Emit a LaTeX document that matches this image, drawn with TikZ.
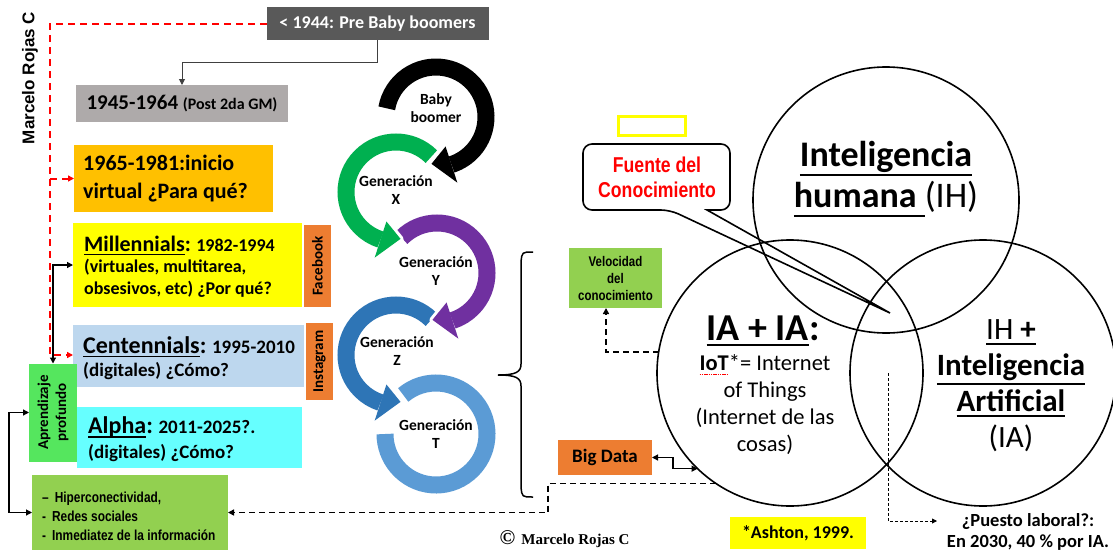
\documentclass[tikz,border=0pt]{standalone}
\usepackage{fontspec}
\setmainfont{Carlito}
\newfontfamily\arialf{Liberation Sans}
\newfontfamily\narrowf[FakeStretch=0.82]{Liberation Sans}
\newfontfamily\seriff{Liberation Serif}
\usetikzlibrary{arrows.meta,calc}
\definecolor{cpre}{HTML}{595959}
\definecolor{cgrayb}{HTML}{AEAAAA}
\definecolor{corg}{HTML}{FFC000}
\definecolor{cyel}{HTML}{FFFF00}
\definecolor{corg2}{HTML}{ED7D31}
\definecolor{clbl}{HTML}{BDD7EE}
\definecolor{ccya}{HTML}{66FFFF}
\definecolor{capr}{HTML}{55E65E}
\definecolor{clst}{HTML}{92D050}
\definecolor{rgreen}{HTML}{00B050}
\definecolor{rpurple}{HTML}{7030A0}
\definecolor{rblue}{HTML}{2E75B6}
\definecolor{rlblue}{HTML}{5B9BD5}
\definecolor{cred}{HTML}{FF0000}
\newcommand\fsz[2]{\fontsize{#1}{#2}\selectfont}
% underline: thickness, depth below baseline, text
\newcommand\ulbox[3]{\setbox0=\hbox{#3}\leavevmode\rlap{\rule[\dimexpr-#2-#1\relax]{\wd0}{#1}}\box0}
\newcommand\reddots[1]{\setbox0=\hbox{#1}\leavevmode\rlap{\textcolor{red}{\hbox to \wd0{\xleaders\hbox{\rule[-4pt]{1.4pt}{1.2pt}\kern0.8pt}\hfill}}}\box0}
% ring: colour, centre, radius, start angle, end angle, tip direction
\newcommand\ringarrow[6]{%
  \filldraw[white, line width=6pt, line join=round] ($#2+(#5:#3+19)$) -- ($#2+(#5:#3-19)$) -- ($#2+(#5:#3)+(#6:20)$) -- cycle;
  \draw[line width=17pt, #1] #2 ++(#4:#3) arc[start angle=#4, end angle=#5, radius=#3];
  \fill[#1] ($#2+(#5:#3+19)$) -- ($#2+(#5:#3-19)$) -- ($#2+(#5:#3)+(#6:20)$) -- cycle;}
\begin{document}
\begin{tikzpicture}[x=1pt,y=-1pt,
  box/.style={inner sep=0pt, outer sep=0pt},
  ltext/.style={anchor=west, align=left, inner sep=0pt},
  tip/.style={-{Triangle[length=6pt,width=6pt]}},
  conn/.style={line width=1.2pt, draw=black},
  dconn/.style={line width=1.5pt, dash pattern=on 6pt off 4pt, tip},
  rdash/.style={draw=cred, line width=2pt, dash pattern=on 7pt off 5pt, tip},
  gen/.style={align=center, font=\bfseries\fsz{15.5}{17.5}},
  vcirc/.style={circle, draw, line width=1.6pt, minimum size=266pt, inner sep=0pt, outer sep=0pt},
]
\useasboundingbox (0,0) rectangle (1113,554);

% ---------- left column boxes ----------
\node[box, fill=cpre, minimum width=222pt, minimum height=33pt, text=white, font=\bfseries\fsz{18}{20}] (pre) at (377.5,23.5) {< 1944: Pre Baby boomers};
\node[box, fill=cgrayb, minimum width=212pt, minimum height=37pt, font=\bfseries] (b45) at (182,103.5) {\fsz{21}{24}1945-1964 {\fsz{16}{18}(Post 2da GM)}};

\node[box, fill=corg, minimum width=199pt, minimum height=67pt] (b65) at (173.5,178.5) {};
\node[ltext, font=\bfseries\fsz{22}{28}] (t65) at ([xshift=9pt]b65.west) {1965-1981:inicio\\virtual ¿Para qué?};

\node[box, fill=cyel, minimum width=229pt, minimum height=84pt] (mil) at (187.5,265) {};
\node[ltext, font=\bfseries\fsz{18}{21.5}] (tmil) at ([xshift=11pt,yshift=-1.5pt]mil.west) {{\fontsize{22}{21.5}\selectfont\ulbox{1.5pt}{2.5pt}{Millennials}:} 1982-1994\\(virtuales, multitarea,\\obsesivos, etc) ¿Por qué?};
\node[box, fill=corg2, minimum width=82pt, minimum height=27pt, rotate=90, font=\bfseries\fsz{15}{17}] (fb) at (317.5,266) {Facebook};

\node[box, fill=clbl, minimum width=231pt, minimum height=62pt] (cen) at (188.5,356) {};
\node[ltext, font=\bfseries\fsz{19}{23}] (tcen) at ([xshift=10pt,yshift=-2pt]cen.west) {{\fontsize{24}{23}\selectfont\ulbox{1.5pt}{2.5pt}{Centennials}:} 1995-2010\\(digitales) ¿Cómo?};
\node[box, fill=corg2, minimum width=77pt, minimum height=27pt, rotate=90, font=\bfseries\fsz{15}{17}] (ig) at (319.5,361.5) {Instagram};

\node[box, fill=capr, minimum width=98pt, minimum height=48pt, rotate=90, align=center, font=\bfseries\fsz{15}{18}] (apr) at (53,412.5) {Aprendizaje\\profundo};

\node[box, fill=ccya, minimum width=225pt, minimum height=61pt] (alp) at (189.5,437.5) {};
\node[ltext, font=\bfseries\fsz{19}{25}] (talp) at ([xshift=11pt,yshift=-2pt]alp.west) {{\fontsize{24}{25}\selectfont\ulbox{1.5pt}{2.5pt}{Alpha}:} 2011-2025?.\\(digitales) ¿Cómo?};

\node[box, fill=clst, minimum width=196pt, minimum height=75pt] (lst) at (130,512.5) {};
\node[ltext, font=\narrowf\bfseries\fsz{14.5}{19}] (tlst) at ([xshift=10pt,yshift=-4pt]lst.west) {–\hspace{6pt}Hiperconectividad,\\-\hspace{6pt}Redes sociales\\-\hspace{6pt}Inmediatez de la información};

\node[rotate=90, font=\arialf\bfseries\fsz{17}{20}] (author) at (30,78) {Marcelo Rojas C};

% ---------- left connectors ----------
\draw[line width=1pt, draw=black!75, tip] (pre.south) -- ++(0,22.5) -| (b45.north);
\coordinate (rc) at (50,355);
\draw[rdash] (pre.west) -| (rc) -- (cen.west |- rc);
\draw[rdash] (b65.west -| rc) -- (b65.west);
\draw[conn, {Triangle[length=6pt,width=6pt]}-{Triangle[length=6pt,width=6pt]}] (apr.east) |- (mil.west);
\coordinate (lx) at (9,412.5);
\draw[conn, {Triangle[length=6pt,width=6pt]}-{Triangle[length=6pt,width=6pt]}] (apr.north) -- (lx) |- (lst.west);

% ---------- circular arrows ----------
\draw[line width=17pt, rlblue] (436,434) ++(230:51) arc[start angle=230, end angle=540, radius=51];
\ringarrow{rblue}{(396,355)}{50}{315}{108}{-2}
\ringarrow{rpurple}{(437,273)}{50}{225}{432}{182}
\ringarrow{rgreen}{(396,192)}{50}{315}{108}{-2}
\ringarrow{black}{(436,117)}{50}{190}{432}{182}
\node[gen] (gbb) at (436,108) {Baby\\boomer};
\node[gen] (gx) at (396,190) {Generación\\X};
\node[gen] (gy) at (436,271) {Generación\\Y};
\node[gen] (gz) at (397,351) {Generación\\Z};
\node[gen] (gt) at (436,434) {Generación\\T};

% brace
\draw[line width=1.5pt] (533,252) .. controls (522,252) .. (521,262) -- (521,364) .. controls (521,372) and (516,375) .. (498,375) .. controls (516,375) and (521,378) .. (521,386) -- (521,487) .. controls (522,497) .. (533,497);

% ---------- right side ----------
\node[box, draw=cyel, line width=3pt, minimum width=67pt, minimum height=19pt] (yl) at (652,126) {};
\draw[line width=1.6pt, fill=white, rounded corners=9pt] (707,210) -- (730,210) -- (730,144) -- (583,144) -- (583,210) -- (670,210) [sharp corners] -- (890,313) -- cycle;
\node[align=center, text=cred, font=\narrowf\bfseries\fsz{21.5}{25}] (fuente) at (657,177.5) {Fuente del\\Conocimiento};

\node[vcirc] (cIH) at (886,200) {};
\node[vcirc] (cIA) at (790,373) {};
\node[vcirc] (cHA) at (983,373) {};

\node[align=center, font=\bfseries\fsz{36}{41}] (tIH) at (886,179) {\ulbox{2pt}{8pt}{Inteligencia}\\\ulbox{2pt}{8pt}{humana }{\mdseries(IH)}};
\node[font=\bfseries\fsz{38}{44}] (tIA) at (763,331) {\ulbox{2.4pt}{3pt}{IA + IA}:};
\node[align=center, font=\fsz{22.5}{27}] (tIoT) at (765,405) {{\bfseries\reddots{IoT}}*= Internet\\of Things\\(Internet de las\\cosas)};
\node[align=center, font=\bfseries\fsz{31}{36}] (tHA) at (1011,386) {\ulbox{2pt}{3pt}{{\mdseries IH} +}\\\ulbox{2pt}{7pt}{Inteligencia}\\\ulbox{2pt}{3pt}{Artificial}\\{\mdseries(IA)}};

\node[box, fill=clst, minimum width=93pt, minimum height=60pt, align=center, font=\narrowf\bfseries\fsz{14}{17}] (vel) at (615.5,278) {Velocidad\\del\\conocimiento};
\node[box, fill=corg2, minimum width=94pt, minimum height=35pt, font=\bfseries\fsz{19}{22}] (big) at (605,457.5) {Big Data};
\node[box, fill=cyel, minimum width=136pt, minimum height=32pt, font=\bfseries\fsz{18}{20}] (ash) at (798,533) {*Ashton, 1999.};
\node[align=center, font=\bfseries\fsz{18.5}{20.5}] (puesto) at (1028,532) {¿Puesto laboral?:\\En 2030, 40 \% por IA.};
\node[anchor=west, font=\seriff\bfseries\fsz{15}{18}] (copy) at (496,539) {{\fsz{21}{21}©}\ \,Marcelo Rojas C};

% ---------- right connectors ----------
\coordinate (vx) at (606,308);
\draw[dconn] (cIA.171) -| (vx);
\draw[conn, {Triangle[length=6pt,width=6pt]}-{Triangle[length=6pt,width=6pt]}] (big.east) -- ++(21,0) |- (cIA.226);
\coordinate (bd) at (548,512.5);
\draw[dconn] (cIA.236) -| (bd) -- (lst.east);
\coordinate (p1) at (888,373);
\coordinate (p2) at (888,521);
\coordinate (p3) at (937,521);
\draw[line width=0.9pt, dash pattern=on 3pt off 2pt, -{Triangle[length=5pt,width=5pt]}] (p1) -- (p2) -- (p3);
\end{tikzpicture}
\end{document}
